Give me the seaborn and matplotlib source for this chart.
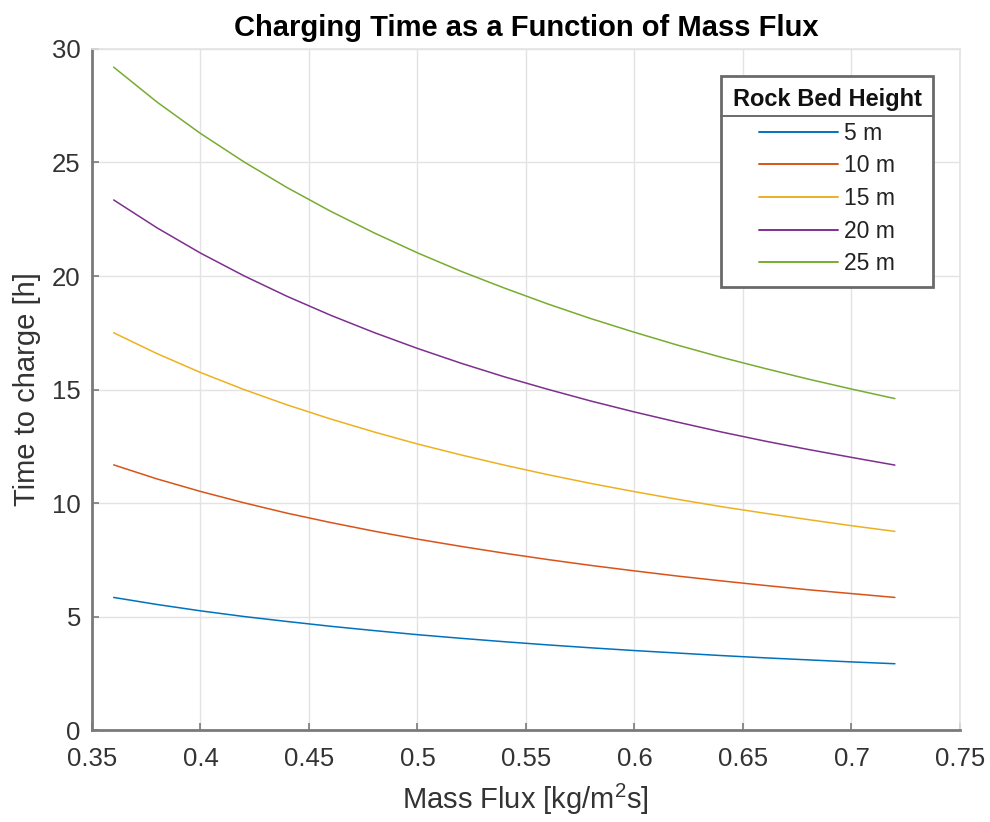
import numpy as np
import pandas as pd
import matplotlib
matplotlib.use("Agg")
import matplotlib.pyplot as plt
from matplotlib.lines import Line2D
import seaborn as sns

# Mass flux samples [kg/m^2 s]
mass_flux = [0.36, 0.38, 0.40, 0.42, 0.44, 0.46, 0.48, 0.50, 0.52, 0.54,
             0.56, 0.58, 0.60, 0.62, 0.64, 0.66, 0.68, 0.70, 0.72]

# Charging time [h] for each rock bed height
time_5m = [5.84, 5.53, 5.25, 5.0, 4.78, 4.57, 4.38, 4.2, 4.04, 3.89,
           3.75, 3.62, 3.5, 3.39, 3.28, 3.18, 3.09, 3.0, 2.92]
time_10m = [11.68, 11.06, 10.51, 10.01, 9.55, 9.14, 8.76, 8.41, 8.09, 7.79,
            7.51, 7.25, 7.01, 6.78, 6.57, 6.37, 6.18, 6.01, 5.84]
time_15m = [17.5, 16.58, 15.75, 15.0, 14.32, 13.7, 13.13, 12.6, 12.12, 11.67,
            11.25, 10.86, 10.5, 10.16, 9.84, 9.55, 9.27, 9.0, 8.75]
time_20m = [23.35, 22.12, 21.01, 20.01, 19.1, 18.27, 17.51, 16.81, 16.16, 15.56,
            15.01, 14.49, 14.01, 13.56, 13.13, 12.73, 12.36, 12.01, 11.67]
time_25m = [29.2, 27.66, 26.28, 25.03, 23.89, 22.85, 21.9, 21.02, 20.21, 19.47,
            18.77, 18.12, 17.52, 16.95, 16.42, 15.93, 15.46, 15.02, 14.6]

heights = ["5 m", "10 m", "15 m", "20 m", "25 m"]
series = [time_5m, time_10m, time_15m, time_20m, time_25m]
colors = ["#0072BD", "#D95319", "#EDB120", "#7E2F8E", "#77AC30"]

x_ticks = [0.35, 0.4, 0.45, 0.5, 0.55, 0.6, 0.65, 0.7, 0.75]
x_tick_labels = ["0.35", "0.4", "0.45", "0.5", "0.55", "0.6", "0.65", "0.7", "0.75"]
y_ticks = [0, 5, 10, 15, 20, 25, 30]

df = pd.concat(
    [pd.DataFrame({"flux": mass_flux, "time": t, "height": h})
     for h, t in zip(heights, series)],
    ignore_index=True,
)

sns.set_style("ticks")
spine_gray = "#7a7a7a"
grid_gray = "#e3e3e3"
text_gray = "#333333"
plt.rcParams.update({
    "font.family": ["Liberation Sans", "DejaVu Sans"],
    "mathtext.fontset": "custom",
    "mathtext.rm": "Liberation Sans",
    "mathtext.default": "regular",
})

fig = plt.figure(figsize=(9.9, 8.22), dpi=100)
ax = fig.add_axes([0.0929, 0.1119, 0.8768, 0.8285])

sns.lineplot(data=df, x="flux", y="time", hue="height", hue_order=heights,
             palette=colors, linewidth=1.1, ax=ax, legend=True)

ax.set_xlim(0.35, 0.75)
ax.set_ylim(0, 30)
ax.set_xticks(x_ticks)
ax.set_xticklabels(x_tick_labels)
ax.set_yticks(y_ticks)
ax.tick_params(axis="x", direction="in", labelsize=18.5, length=5, width=1.2,
               pad=12, color=spine_gray, labelcolor=text_gray)
ax.tick_params(axis="y", direction="in", labelsize=18.5, length=5, width=1.2,
               pad=8, color=spine_gray, labelcolor=text_gray)
ax.grid(True, color=grid_gray, linewidth=1.0)
for side in ["left", "bottom"]:
    ax.spines[side].set_visible(True)
    ax.spines[side].set_linewidth(2.0)
    ax.spines[side].set_color(spine_gray)
for side in ["top", "right"]:
    ax.spines[side].set_visible(True)
    ax.spines[side].set_linewidth(1.2)
    ax.spines[side].set_color(grid_gray)

ax.set_xlabel(r"Mass Flux [kg/m$^2$s]", fontsize=21, color=text_gray, labelpad=8)
ax.set_ylabel("Time to charge [h]", fontsize=21, color=text_gray, labelpad=8)
ax.set_title("Charging Time as a Function of Mass Flux", fontsize=21,
             fontweight="bold", color="black", pad=9)

leg = ax.legend(title="Rock Bed Height", loc="upper right",
                bbox_to_anchor=(0.969, 0.960), fontsize=16.5,
                title_fontproperties={"weight": "bold", "size": 17},
                fancybox=False, framealpha=1, edgecolor="#6a6a6a",
                handlelength=3.45, handletextpad=0.26, labelspacing=0.42,
                borderpad=0.5, borderaxespad=0)
leg.get_frame().set_linewidth(2.0)
leg._legend_box.sep = 8
for txt in leg.get_texts():
    txt.set_color("#222222")
leg.get_title().set_color("#111111")
for ln in leg.get_lines():
    ln.set_linewidth(1.4)

# horizontal rule under the legend title
fig.canvas.draw()
renderer = fig.canvas.get_renderer()
frame_bb = leg.get_frame().get_window_extent(renderer)
title_bb = leg.get_title().get_window_extent(renderer)
first_bb = leg.get_texts()[0].get_window_extent(renderer)
y_rule = 0.5 * (title_bb.y0 + first_bb.y1)
inv = fig.transFigure.inverted()
(x0, y0) = inv.transform((frame_bb.x0, y_rule))
(x1, _) = inv.transform((frame_bb.x1, y_rule))
fig.add_artist(Line2D([x0, x1], [y0, y0], color="#6a6a6a", linewidth=1.4,
                      transform=fig.transFigure))

fig.savefig("out.png", dpi=100)
